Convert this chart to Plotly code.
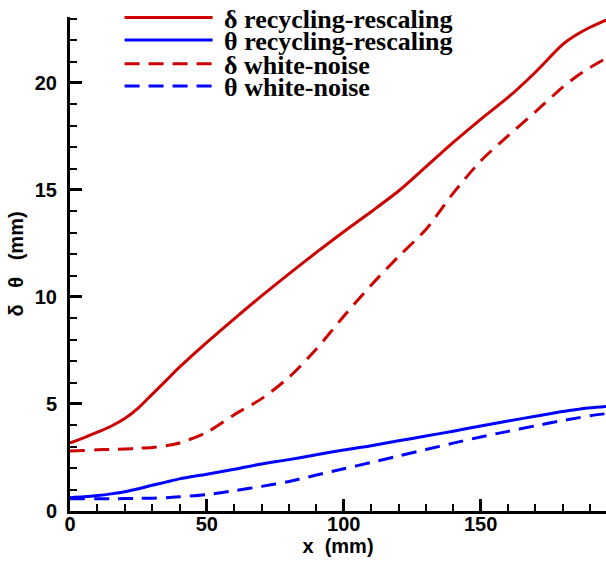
import plotly.graph_objects as go

x_vals = [0, 5, 10, 15, 20, 25, 30, 35, 40, 50, 60, 70, 80, 90, 100, 110, 120, 130, 140, 150, 160, 170, 180, 185, 190, 196]
delta_rr = [3.18, 3.42, 3.68, 3.96, 4.32, 4.82, 5.45, 6.08, 6.72, 7.88, 8.98, 10.05, 11.08, 12.08, 13.05, 13.98, 14.95, 16.08, 17.22, 18.30, 19.32, 20.50, 21.80, 22.25, 22.60, 22.95]
theta_rr = [0.62, 0.66, 0.72, 0.80, 0.90, 1.04, 1.20, 1.35, 1.50, 1.72, 1.95, 2.20, 2.40, 2.63, 2.85, 3.05, 3.28, 3.50, 3.73, 3.97, 4.20, 4.43, 4.65, 4.74, 4.82, 4.89]
delta_wn = [2.80, 2.83, 2.86, 2.88, 2.90, 2.93, 2.97, 3.05, 3.18, 3.68, 4.50, 5.25, 6.25, 7.57, 9.10, 10.55, 11.89, 13.15, 14.85, 16.35, 17.53, 18.65, 19.80, 20.30, 20.72, 21.16]
theta_wn = [0.57, 0.57, 0.57, 0.57, 0.58, 0.59, 0.60, 0.62, 0.66, 0.77, 0.95, 1.15, 1.38, 1.68, 1.97, 2.27, 2.57, 2.87, 3.17, 3.46, 3.72, 3.98, 4.23, 4.34, 4.45, 4.55]

names = ["δ recycling-rescaling", "θ recycling-rescaling", "δ white-noise", "θ white-noise"]
RED = "#cc0000"
BLUE = "#0000ff"

fig = go.Figure()
series = [(delta_rr, RED, "solid"), (theta_rr, BLUE, "solid"),
          (delta_wn, RED, "15px,9px"), (theta_wn, BLUE, "15px,9px")]
legend_ids = ["legend", "legend2", "legend3", "legend4"]
for (ys, col, dash), nm, lid in zip(series, names, legend_ids):
    fig.add_trace(go.Scatter(x=x_vals, y=ys, mode="lines", name="\u00a0" + nm, legend=lid,
                             line=dict(color=col, width=3, dash=dash, shape="spline", smoothing=0.8)))

tickfont = dict(family="Liberation Sans, Arial", size=20, color="black", weight="bold")
titlefont = dict(family="Liberation Sans, Arial", size=20, color="black", weight="bold")

legfont = dict(family="Liberation Serif, Times New Roman", size=26, color="black", weight="bold")
leg_y = [0.999, 0.953, 0.905, 0.860]
legends = {}
for lid, yy in zip(legend_ids, leg_y):
    legends[lid] = dict(x=0.0925, y=yy, xanchor="left", yanchor="middle",
                        bgcolor="rgba(0,0,0,0)", borderwidth=0, font=legfont,
                        itemwidth=88)

fig.update_layout(
    width=606, height=561,
    margin=dict(l=70, r=0, t=17, b=50, autoexpand=False),
    plot_bgcolor="white", paper_bgcolor="white",
    showlegend=True,
    **legends,
    xaxis=dict(range=[0, 195.8], showline=True, linewidth=3, linecolor="black",
               showgrid=False, zeroline=False, ticks="inside", ticklen=12, tickwidth=3,
               tickcolor="black", dtick=50, tickfont=tickfont, ticklabelstandoff=-7,
               automargin=False,
               minor=dict(dtick=10, ticks="inside", ticklen=7, tickwidth=2, tickcolor="black", showgrid=False),
               title=dict(text="x\u00a0\u00a0(mm)", font=titlefont, standoff=2)),
    yaxis=dict(range=[0, 23.08], showline=True, linewidth=3, linecolor="black",
               showgrid=False, zeroline=False, ticks="inside", ticklen=12, tickwidth=3,
               tickcolor="black", dtick=5, tickfont=tickfont, ticklabelstandoff=6,
               automargin=False,
               minor=dict(dtick=1, ticks="inside", ticklen=7, tickwidth=2, tickcolor="black", showgrid=False),
               title=dict(text="δ\u00a0\u00a0\u00a0θ\u00a0\u00a0\u00a0(mm)", font=titlefont, standoff=6)),
)

fig.write_html("out.html", config={"displayModeBar": False},
               post_script="document.body.style.margin='0px';document.body.style.padding='0px';")
